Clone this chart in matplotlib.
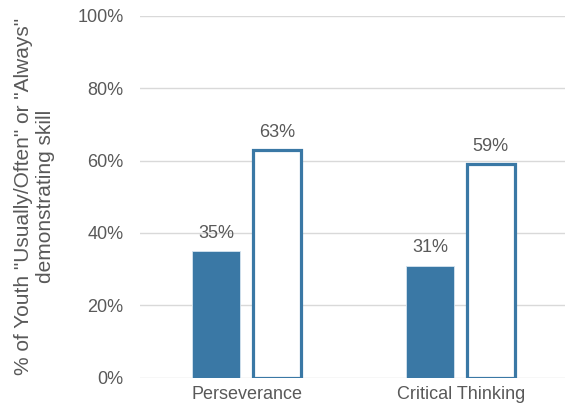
import matplotlib.pyplot as plt
import numpy as np

plt.rcParams['font.family'] = ['Liberation Sans', 'DejaVu Sans']

skills = ['Perseverance', 'Critical Thinking']
filled_vals = [35, 31]
outline_vals = [63, 59]
y_ticks = [0, 20, 40, 60, 80, 100]

blue = '#3a78a5'
grey_text = '#595959'

fig = plt.figure(figsize=(5.65, 4.12), dpi=100)
ax = fig.add_axes([0.248, 0.083, 0.757, 0.879])

x = np.arange(len(skills))
w = 0.225
ax.bar(x - 0.145, filled_vals, w, color=blue, edgecolor='#d6e4ef', linewidth=0.6, zorder=3)
ax.bar(x + 0.14, outline_vals, w, facecolor='white', edgecolor=blue, linewidth=2.3, zorder=3)

# value labels over each bar
for xi, v in zip(x - 0.145, filled_vals):
    ax.text(xi, v + 2.6, f'{v}%', ha='center', va='bottom', fontsize=13, color=grey_text)
for xi, v in zip(x + 0.14, outline_vals):
    ax.text(xi, v + 2.4, f'{v}%', ha='center', va='bottom', fontsize=13, color=grey_text)

ax.set_xlim(-0.5, 1.5)
ax.set_ylim(0, 100)
ax.set_yticks(y_ticks)
ax.set_yticklabels([f'{t}%' for t in y_ticks])
ax.set_xticks(x)
ax.set_xticklabels(skills)
ax.tick_params(length=0, labelsize=13, colors=grey_text)
ax.tick_params(axis='y', pad=12)
ax.tick_params(axis='x', pad=6)

ax.yaxis.grid(True, color='#d9d9d9', linewidth=1, zorder=0)
ax.set_axisbelow(True)
for s in ax.spines.values():
    s.set_visible(False)

ax.set_ylabel('% of Youth "Usually/Often" or "Always"\ndemonstrating skill',
              fontsize=15, color=grey_text, labelpad=16, linespacing=1.2)

fig.savefig('out.png', dpi=100)
